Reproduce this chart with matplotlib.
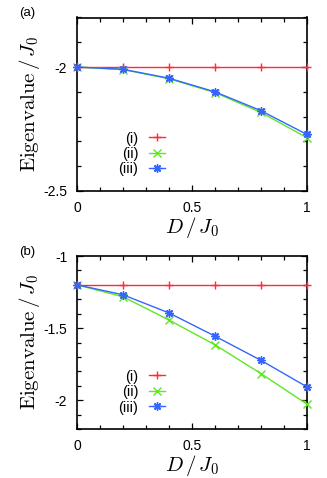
import matplotlib
matplotlib.use("Agg")
import matplotlib.pyplot as plt
from matplotlib.ticker import MultipleLocator

plt.rcParams['font.family'] = ['Liberation Sans', 'DejaVu Sans']
plt.rcParams['mathtext.fontset'] = 'cm'

D = [0.0, 0.2, 0.4, 0.6, 0.8, 1.0]

# panel (a)
a_i = [-2.0, -2.0, -2.0, -2.0, -2.0, -2.0]
a_ii = [-2.0, -2.01, -2.047, -2.103, -2.183, -2.285]
a_iii = [-2.0, -2.009, -2.045, -2.100, -2.176, -2.272]

# panel (b)
b_i = [-1.2, -1.2, -1.2, -1.2, -1.2, -1.2]
b_ii = [-1.2, -1.283, -1.444, -1.616, -1.816, -2.028]
b_iii = [-1.2, -1.269, -1.395, -1.556, -1.724, -1.908]

labels = ['(i)', '(ii)', '(iii)']
panel_tags = ['(a)', '(b)']
colors = ['#ff2a3a', '#5fe624', '#3565ff']
markers = ['+', 'x', (8, 2, 0)]

W, H = 327, 478
fig = plt.figure(figsize=(W / 100, H / 100), dpi=100)

def axrect(l, t, r, b):
    return [l / W, 1 - b / H, (r - l) / W, (b - t) / H]

panels = [
    (axrect(77, 17.5, 307, 191), (a_i, a_ii, a_iii), (-2.5, -1.8)),
    (axrect(77, 256, 307, 429), (b_i, b_ii, b_iii), (-2.2, -1.0)),
]

for k, (rect, series, ylim) in enumerate(panels):
    ax = fig.add_axes(rect)
    for s, lab, c, m in zip(series, labels, colors, markers):
        ax.plot(D, s, color=c, lw=1.0, marker=m, ms=6, mew=1.0, label=lab,
                clip_on=False, zorder=3)
    ax.set_xlim(0, 1)
    ax.set_ylim(*ylim)
    ax.xaxis.set_major_locator(MultipleLocator(0.5))
    ax.xaxis.set_minor_locator(MultipleLocator(0.1))
    ax.yaxis.set_major_locator(MultipleLocator(0.5))
    ax.yaxis.set_minor_locator(MultipleLocator(0.1))
    ax.tick_params(which='both', direction='in', top=True, right=True,
                   labelsize=10, pad=7)
    ax.tick_params(which='major', length=4, width=0.9)
    ax.tick_params(which='minor', length=3, width=0.9)
    for sp in ax.spines.values():
        sp.set_linewidth(1.2)
    ax.xaxis.set_major_formatter(plt.FuncFormatter(lambda v, p: '%g' % v))
    ax.yaxis.set_major_formatter(plt.FuncFormatter(lambda v, p: '%g' % v))
    ax.set_xlabel(r'$D\,/\,J_0$', fontsize=15, labelpad=0)
    ax.set_ylabel(r'$\mathrm{Eigenvalue}\,/\,J_0$', fontsize=15, labelpad=1)
    ax.legend(loc='lower left', bbox_to_anchor=(0.155, 0.05),
              markerfirst=False, frameon=False, fontsize=10.5,
              handlelength=1.1, handletextpad=0.7, labelspacing=0.1,
              borderaxespad=0)
    fig.text(19 / W, 1 - (13 if k == 0 else 252) / H, panel_tags[k],
             fontsize=9.5, va='center', ha='left')

fig.savefig('out.png', dpi=100)
